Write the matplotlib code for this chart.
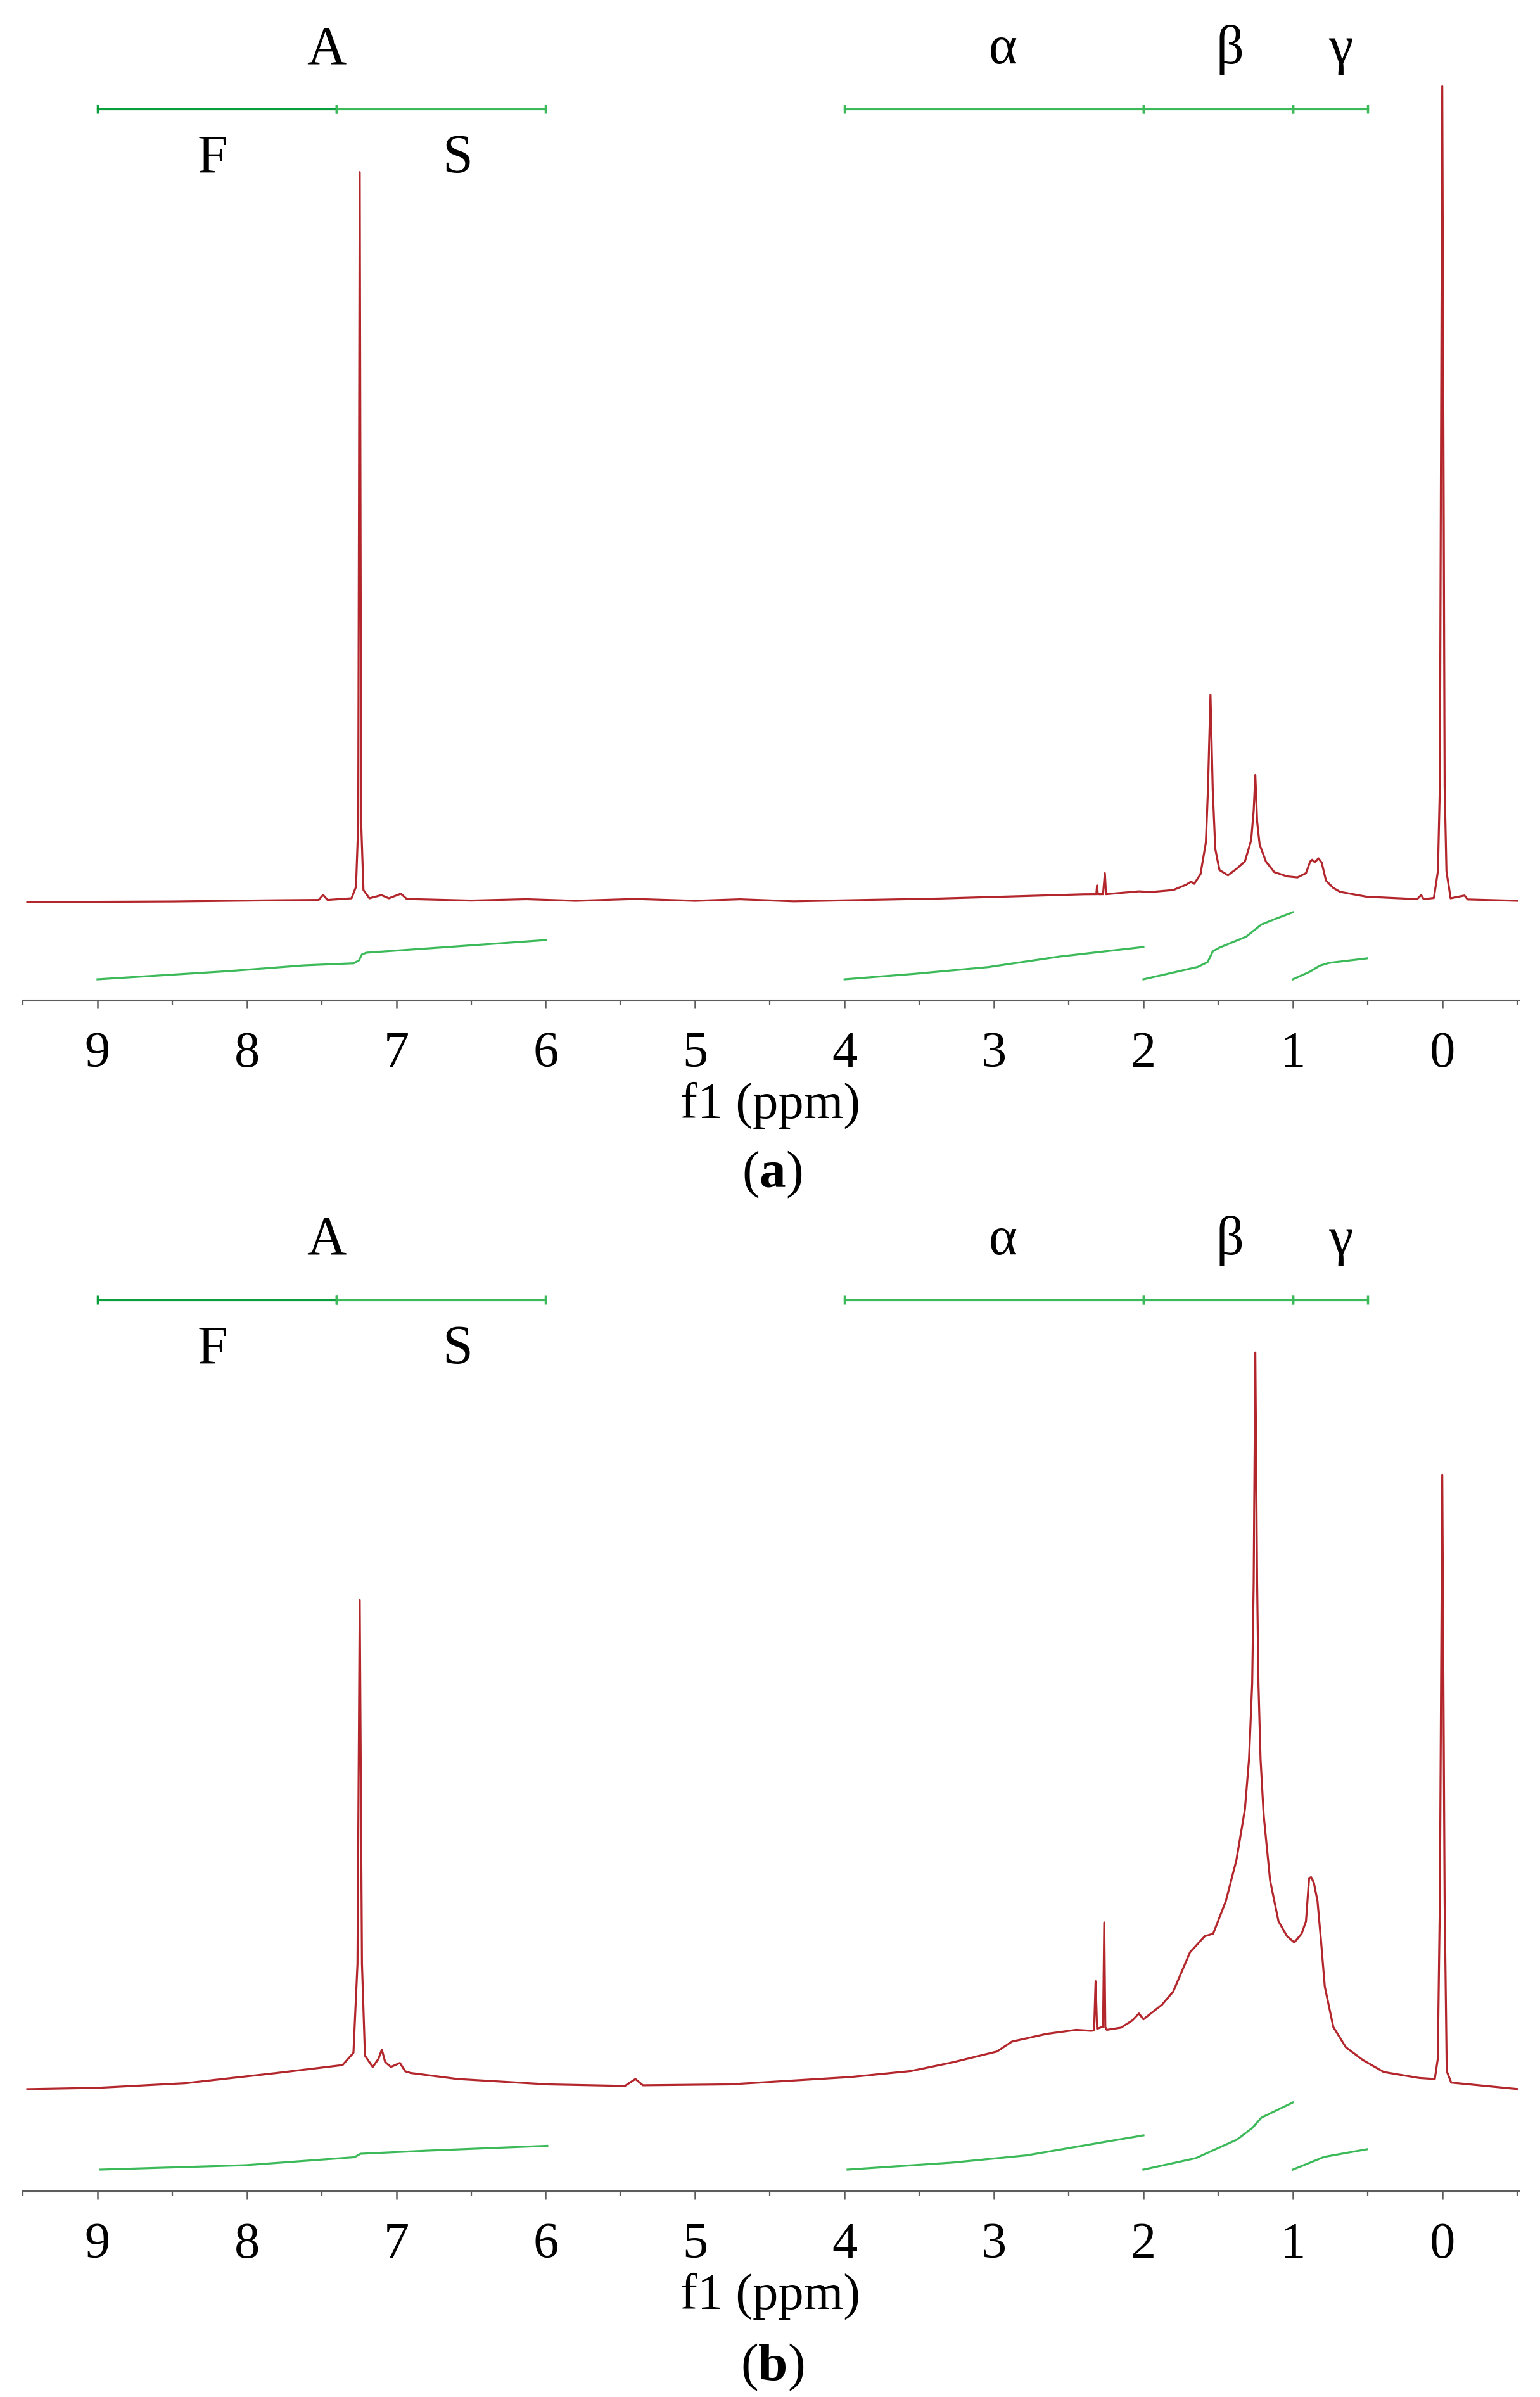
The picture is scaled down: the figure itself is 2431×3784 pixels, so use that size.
import matplotlib
matplotlib.use('Agg')
import matplotlib.pyplot as plt

plt.rcParams['font.family'] = ['Liberation Serif', 'DejaVu Serif']
plt.rcParams['mathtext.fontset'] = 'custom'
plt.rcParams['mathtext.rm'] = 'Liberation Serif'
plt.rcParams['mathtext.bf'] = 'Liberation Serif:bold'

# spectrum (a): chemical shift (ppm) and intensity (TMS in (a) = 100)
ppm_a = [9.47, 8.5, 7.8, 7.52, 7.49, 7.46, 7.30, 7.27, 7.255, 7.245, 7.235, 7.22,
         7.18, 7.10, 7.05, 6.97, 6.93, 6.5, 6.13, 5.8, 5.40, 5.0, 4.70, 4.34,
         3.37, 2.88, 2.40, 2.33, 2.315, 2.31, 2.305, 2.27, 2.258, 2.25, 2.15, 2.03,
         1.95, 1.80, 1.716, 1.681, 1.66, 1.618, 1.582, 1.568, 1.551, 1.536, 1.519, 1.491,
         1.434, 1.378, 1.321, 1.279, 1.262, 1.251, 1.239, 1.222, 1.180, 1.124, 1.039, 0.969,
         0.912, 0.884, 0.870, 0.853, 0.828, 0.807, 0.778, 0.729, 0.684, 0.505, 0.168, 0.141,
         0.124, 0.056, 0.029, 0.016, 0.0, -0.016, -0.028, -0.056, -0.149, -0.17, -0.51]
int_a = [0.0, 0.08, 0.23, 0.27, 0.88, 0.27, 0.47, 1.87, 9.6, 89.6, 9.6, 1.48,
         0.47, 0.86, 0.47, 1.03, 0.39, 0.19, 0.36, 0.16, 0.39, 0.16, 0.35, 0.10,
         0.44, 0.70, 0.96, 0.97, 0.97, 2.05, 0.97, 0.97, 3.55, 0.97, 1.13, 1.32,
         1.24, 1.48, 2.12, 2.51, 2.25, 3.42, 7.3, 13.8, 25.45, 13.8, 6.53, 3.94,
         3.29, 4.07, 4.98, 7.57, 11.2, 15.6, 9.9, 7.05, 4.98, 3.68, 3.16, 3.03,
         3.55, 4.98, 5.2, 4.9, 5.37, 4.86, 2.64, 1.74, 1.26, 0.66, 0.37, 0.87,
         0.37, 0.51, 3.79, 14.2, 100.2, 14.2, 3.79, 0.47, 0.81, 0.33, 0.16]

# spectrum (b)
ppm_b = [9.47, 9.0, 8.41, 7.805, 7.36, 7.287, 7.26, 7.245, 7.23, 7.21,
         7.158, 7.12, 7.097, 7.075, 7.037, 6.976, 6.94, 6.90, 6.59, 5.985,
         5.47, 5.40, 5.35, 4.77, 3.962, 3.556, 3.28, 2.98, 2.88, 2.65,
         2.45, 2.35, 2.33, 2.32, 2.31, 2.28, 2.27, 2.262, 2.255, 2.245,
         2.15, 2.075, 2.03, 2.0, 1.875, 1.801, 1.688, 1.589, 1.533, 1.448,
         1.378, 1.321, 1.293, 1.272, 1.262, 1.251, 1.239, 1.230, 1.216, 1.195,
         1.152, 1.096, 1.039, 0.990, 0.941, 0.912, 0.891, 0.877, 0.859, 0.835,
         0.814, 0.786, 0.729, 0.645, 0.532, 0.392, 0.155, 0.05, 0.03, 0.016,
         0.0, -0.016, -0.03, -0.06, -0.51]
int_b = [0.0, 0.16, 0.73, 1.97, 2.95, 4.45, 15.4, 60.0, 15.4, 4.1,
         2.72, 3.7, 4.84, 3.34, 2.72, 3.21, 2.18, 1.97, 1.24, 0.58,
         0.39, 1.24, 0.47, 0.58, 1.48, 2.22, 3.27, 4.61, 5.83, 6.77,
         7.27, 7.15, 7.2, 13.24, 7.4, 7.6, 7.6, 20.45, 7.6, 7.27,
         7.54, 8.42, 9.28, 8.57, 10.37, 11.95, 16.8, 18.77, 19.08, 23.1,
         28.07, 34.3, 40.5, 49.8, 62.2, 90.4, 62.2, 49.8, 40.5, 33.6,
         25.6, 20.6, 18.77, 18.0, 19.08, 20.6, 25.9, 26.0, 25.3, 23.1,
         18.77, 12.57, 7.62, 5.13, 3.58, 2.1, 1.37, 1.24, 3.7, 23.0,
         75.4, 23.0, 2.2, 0.8, 0.0]

# integral curves (ppm, cumulative value)
integ_a = [
    ([9.0, 8.12, 7.62, 7.285, 7.25, 7.23, 7.20, 6.6, 6.0],
     [0.0, 1.01, 1.71, 1.97, 2.33, 3.06, 3.27, 4.04, 4.82]),
    ([4.0, 3.53, 3.04, 2.56, 2.0], [0.0, 0.68, 1.5, 2.8, 3.97]),
    ([2.0, 1.637, 1.57, 1.535, 1.49, 1.312, 1.21, 1.11, 1.0],
     [0.0, 1.52, 2.12, 3.45, 3.9, 5.24, 6.73, 7.47, 8.23]),
    ([1.0, 0.887, 0.82, 0.757, 0.505], [0.0, 0.93, 1.67, 2.02, 2.57]),
]
integ_b = [
    ([8.98, 8.01, 7.28, 7.24, 6.79, 5.99], [0.0, 0.54, 1.52, 1.94, 2.33, 2.92]),
    ([3.98, 3.28, 2.78, 2.277, 2.0], [0.0, 0.86, 1.75, 3.34, 4.2]),
    ([2.0, 1.65, 1.373, 1.27, 1.21, 1.0], [0.0, 1.4, 3.69, 5.13, 6.38, 8.24]),
    ([1.0, 0.79, 0.505], [0.0, 1.56, 2.49]),
]

# region brackets: (start, end, dark?)
brackets = [(9.0, 7.4, True), (7.4, 6.0, False), (4.0, 2.0, False),
            (2.0, 1.0, False), (1.0, 0.5, False)]
top_labels = [('A', 7.47), ('α', 2.94), ('β', 1.42), ('γ', 0.68)]
sub_labels = [('F', 8.23), ('S', 6.59)]

red = '#b3262b'
green = '#3cba5a'
dark_green = '#0a9e3c'
gray = '#5c5c5c'

fig = plt.figure(figsize=(24.31, 37.84), dpi=100)
ax_a = fig.add_axes([0.0148, 0.5827, 0.9712, 0.4173])
ax_b = fig.add_axes([0.0148, 0.0859, 0.9712, 0.4173])


def draw_panel(ax, ppm, inten, integ, base, ibase):
    ax.plot(ppm, [v + base for v in inten], color=red, lw=2.3, solid_joinstyle='round')
    for xs, ys in integ:
        ax.plot(xs, [v + ibase for v in ys], color=green, lw=2.3)
    for s, e, dark in brackets:
        ax.plot([s, e], [109.4, 109.4], color=dark_green if dark else green,
                lw=2.3, marker='|', ms=10, mew=2.5)
    for t, x in top_labels:
        ax.text(x, 115.0, t, ha='center', va='baseline', fontsize=62)
    for t, x in sub_labels:
        ax.text(x, 101.6, t, ha='center', va='baseline', fontsize=62)

    ax.set_xlim(9.49, -0.51)
    ax.set_ylim(0, 122.78)
    for sp in ['top', 'left', 'right']:
        ax.spines[sp].set_visible(False)
    ax.spines['bottom'].set_color(gray)
    ax.spines['bottom'].set_linewidth(2.2)
    ax.set_yticks([])
    ax.set_xticks(range(0, 10))
    ax.set_xticks([x + 0.5 for x in range(-1, 10)], minor=True)
    ax.tick_params(axis='x', which='major', direction='out', length=9.5, width=1.8,
                   color=gray, labelsize=58, pad=26)
    ax.tick_params(axis='x', which='minor', direction='out', length=6, width=1.6, color=gray)
    ax.text(0.5, -186 / 1579, 'f1 (ppm)', transform=ax.transAxes,
            ha='center', va='baseline', fontsize=58)


draw_panel(ax_a, ppm_a, int_a, integ_a, 12.05, 2.57)
draw_panel(ax_b, ppm_b, int_b, integ_b, 12.52, 2.64)

fig.text(0.5014, 1 - 1854 / 3784, r'($\mathbf{a}$)', ha='center', va='center', fontsize=60)
fig.text(0.5014, 1 - 3737 / 3784, r'($\mathbf{b}$)', ha='center', va='center', fontsize=60)

fig.savefig('out.png', dpi=100)
